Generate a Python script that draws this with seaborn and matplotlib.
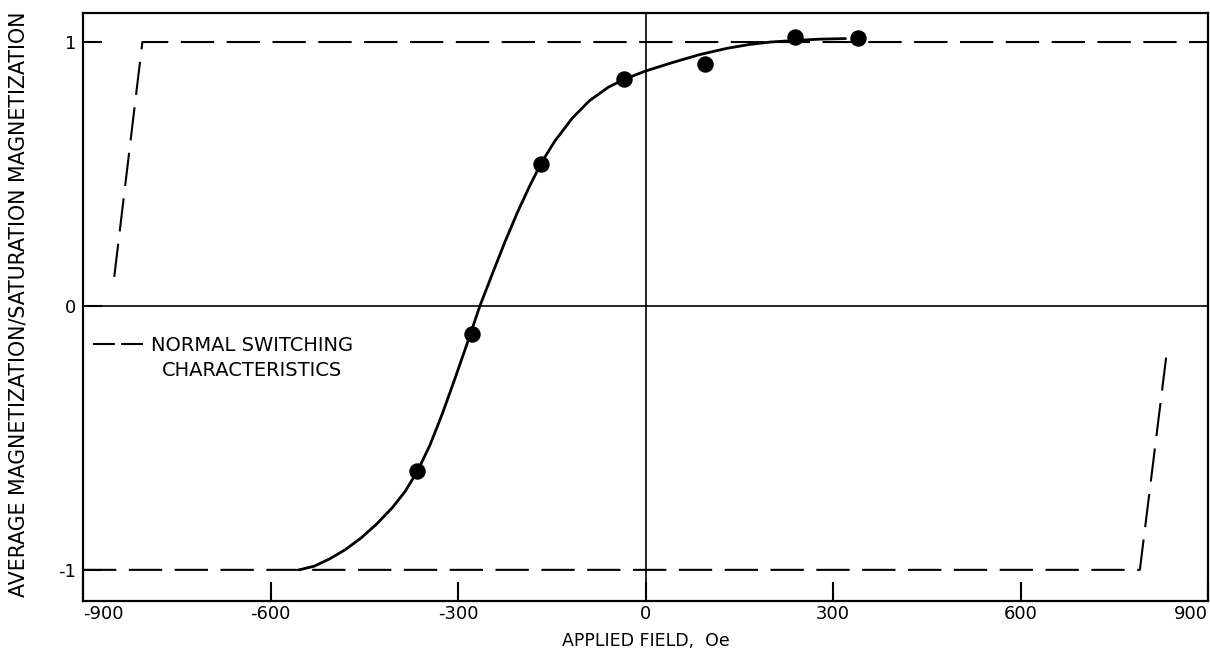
import numpy as np
import pandas as pd
import matplotlib
matplotlib.use("Agg")
import matplotlib.pyplot as plt
from matplotlib.lines import Line2D
import seaborn as sns

# ---- data ----
meas_field = [-365, -277, -167, -34, 95, 239, 340]
meas_mag = [-0.625, -0.106, 0.538, 0.86, 0.917, 1.02, 1.015]

curve_field = [-554, -530, -505, -480, -455, -430, -405, -385, -365, -345,
               -325, -305, -285, -265, -245, -225, -205, -185, -167, -145,
               -117, -90, -60, -35, 0, 40, 86, 130, 167, 200, 239, 280, 320]
curve_mag = [-1.0, -0.986, -0.958, -0.923, -0.879, -0.826, -0.764, -0.704, -0.627, -0.528,
             -0.408, -0.276, -0.140, 0.0, 0.122, 0.242, 0.354, 0.456, 0.541, 0.625,
             0.712, 0.777, 0.828, 0.858, 0.89, 0.92, 0.952, 0.976, 0.991, 1.0, 1.006, 1.011, 1.013]

upper_field = [-850, -805, 900]
upper_mag = [0.11, 1.0, 1.0]
lower_field = [-900, 791, 835]
lower_mag = [-1.0, -1.0, -0.157]

x_ticks = [-900, -600, -300, 0, 300, 600, 900]
y_ticks = [-1, 0, 1]
y_ticklabels = ["-1", "0", "1"]

sns.set_style("white")
plt.rcParams["font.family"] = ["DejaVu Sans"]
plt.rcParams["axes.unicode_minus"] = False
for k in ["text.color", "axes.labelcolor", "xtick.color", "ytick.color"]:
    plt.rcParams[k] = "black"

fig = plt.figure(figsize=(12.1, 6.59), dpi=100)
ax = fig.add_axes([83 / 1210, 1 - 601 / 659, 1125 / 1210, 588 / 659])

DASH = (16, 6)
# zero reference lines
ax.axhline(0, color="black", lw=1.2, zorder=1)
ax.axvline(0, color="black", lw=1.2, zorder=1)

# normal switching characteristics (dashed)
up = pd.DataFrame({"field": upper_field, "mag": upper_mag})
lo = pd.DataFrame({"field": lower_field, "mag": lower_mag})
sns.lineplot(data=up, x="field", y="mag", sort=False, estimator=None, ax=ax,
             color="black", lw=1.5, zorder=2)
ax.lines[-1].set_dashes(DASH)
sns.lineplot(data=lo, x="field", y="mag", sort=False, estimator=None, ax=ax,
             color="black", lw=1.5, zorder=2)
ax.lines[-1].set_dashes(DASH)

# fitted curve
cv = pd.DataFrame({"field": curve_field, "mag": curve_mag})
sns.lineplot(data=cv, x="field", y="mag", sort=False, estimator=None, ax=ax,
             color="black", lw=2.0, zorder=3)
ax.lines[-1].set_solid_joinstyle("round")

# measured points
pts = pd.DataFrame({"field": meas_field, "mag": meas_mag})
sns.scatterplot(data=pts, x="field", y="mag", ax=ax, color="black", s=140,
                edgecolor="black", linewidth=0, zorder=4)

ax.set_xlim(-900, 900)
ax.set_ylim(-1.118, 1.11)
ax.set_xticks(x_ticks)
ax.set_xticklabels([str(v) for v in x_ticks])
ax.set_yticks(y_ticks)
ax.set_yticklabels(y_ticklabels)
ax.tick_params(axis="both", direction="in", length=14, width=1.5, labelsize=13,
               colors="black", bottom=True, left=True, top=False, right=False)
ax.tick_params(axis="x", pad=3)
ax.tick_params(axis="y", pad=5)
xl = ax.get_xticklabels()
xl[0].set_ha("left")
xl[-1].set_ha("right")
for s in ax.spines.values():
    s.set_visible(True)
    s.set_color("black")
    s.set_linewidth(1.6)

ax.set_xlabel("APPLIED FIELD,  Oe", fontsize=12.5)
ax.set_ylabel("AVERAGE MAGNETIZATION/SATURATION MAGNETIZATION", fontsize=14.8)
ax.xaxis.set_label_coords(0.5, -0.053)
ax.yaxis.set_label_coords(-0.048, 0.505)

handle = Line2D([], [], color="black", lw=1.5, dashes=(10.5, 3))
leg = ax.legend(handles=[handle], labels=["NORMAL SWITCHING"],
                loc="center left", bbox_to_anchor=(10 / 1125, 0.435), frameon=False,
                fontsize=14, handlelength=2.6, handletextpad=0.36,
                borderaxespad=0, borderpad=0)

fig.canvas.draw()
tb = leg.get_texts()[0].get_window_extent()
cx, cy = ax.transAxes.inverted().transform(((tb.x0 + tb.x1) / 2, (tb.y0 + tb.y1) / 2))
ax.text(cx, cy - 25 / 588, "CHARACTERISTICS", transform=ax.transAxes,
        ha="center", va="center", fontsize=14)

fig.savefig("out.png", dpi=100, facecolor="white")
